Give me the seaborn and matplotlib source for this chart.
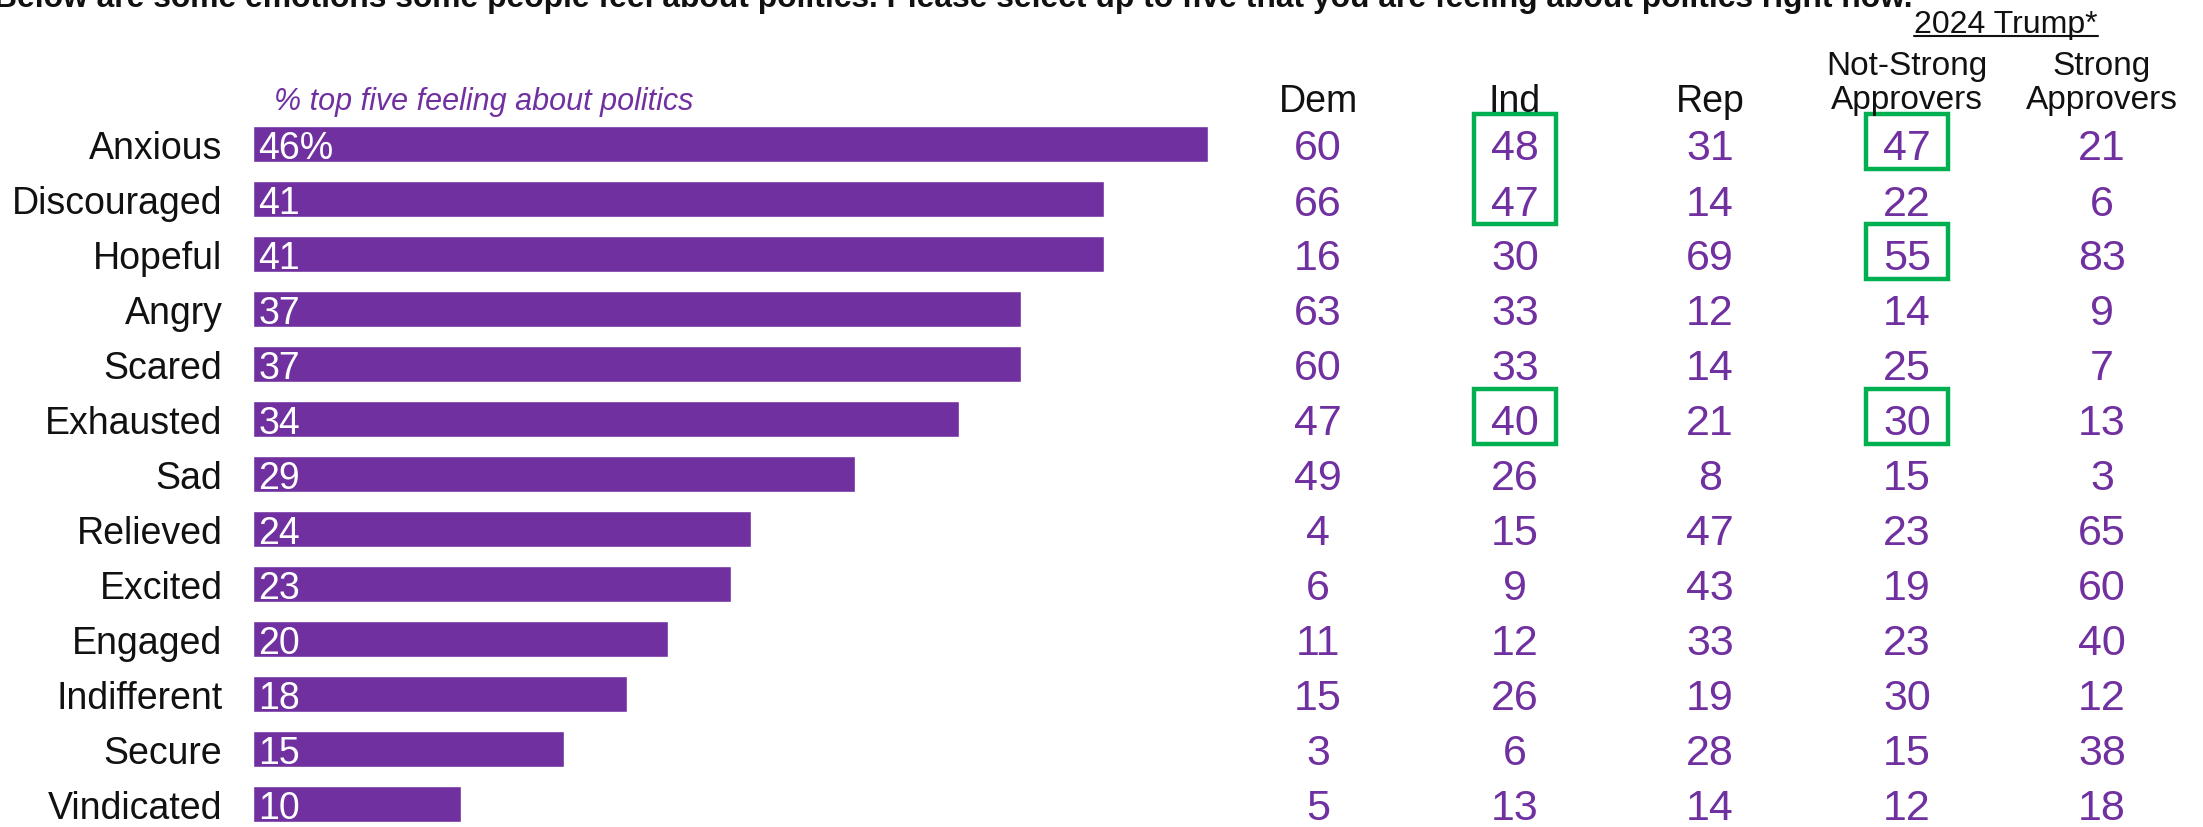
import matplotlib
matplotlib.use('Agg')
import matplotlib.pyplot as plt
from matplotlib.patches import Rectangle
from matplotlib.lines import Line2D
import pandas as pd
import seaborn as sns

# ---- data ----
emotions = ['Anxious', 'Discouraged', 'Hopeful', 'Angry', 'Scared', 'Exhausted', 'Sad',
            'Relieved', 'Excited', 'Engaged', 'Indifferent', 'Secure', 'Vindicated']
total = [46, 41, 41, 37, 37, 34, 29, 24, 23, 20, 18, 15, 10]
dem = [60, 66, 16, 63, 60, 47, 49, 4, 6, 11, 15, 3, 5]
ind = [48, 47, 30, 33, 33, 40, 26, 15, 9, 12, 26, 6, 13]
rep = [31, 14, 69, 12, 14, 21, 8, 47, 43, 33, 19, 28, 14]
not_strong = [47, 22, 55, 14, 25, 30, 15, 23, 19, 23, 30, 15, 12]
strong = [21, 6, 83, 9, 7, 13, 3, 65, 60, 40, 12, 38, 18]
# (column, first row, last row) of the green highlight boxes
highlights = [('ind', 0, 1), ('not_strong', 0, 0), ('not_strong', 2, 2),
              ('ind', 5, 5), ('not_strong', 5, 5)]

title = ('Below are some emotions some people feel about politics. '
         'Please select up to five that you are feeling about politics right now.')

PURPLE = '#7030A0'
GREEN = '#00B050'
INK = '#111111'
W, H = 2203, 828

sns.set_style('white')
plt.rcParams['font.family'] = ['Liberation Sans', 'DejaVu Sans']

df = pd.DataFrame({'emotion': emotions, 'total': total})

fig = plt.figure(figsize=(W / 100, H / 100), dpi=100)

# bar axes: rows 55 px apart, first row centre at y=145 px
top_px, row_px = 145 - 27.5, 55
ax_h = row_px * len(emotions)
ax = fig.add_axes([253 / W, 1 - (top_px + ax_h) / H, 955 / W, ax_h / H])
sns.barplot(data=df, x='total', y='emotion', color=PURPLE, saturation=1,
            width=0.67, ax=ax)
ax.set_xlim(0, 46)
ax.set_ylim(len(emotions) - 0.5, -0.5)
ax.set_xlabel('')
ax.set_ylabel('')
ax.set_xticks([])
sns.despine(ax=ax, left=True, bottom=True)
ax.tick_params(axis='y', length=0, pad=22, labelsize=27, labelcolor=INK)

for i, v in enumerate(total):
    lab = f'{v}%' if i == 0 else f'{v}'
    ax.annotate(lab, xy=(0, i), xytext=(4, 0), textcoords='offset points',
                va='center_baseline', ha='left', color='white', fontsize=27)

# table axes covering full width, x in pixels, y in rows
tax = fig.add_axes([0, 1 - (top_px + ax_h) / H, 1, ax_h / H])
tax.set_xlim(0, W)
tax.set_ylim(len(emotions) - 0.5, -0.5)
tax.axis('off')

cols = {'dem': (1318, dem), 'ind': (1515, ind), 'rep': (1710, rep),
        'not_strong': (1907, not_strong), 'strong': (2102, strong)}
for key, (cx, vals) in cols.items():
    for i, v in enumerate(vals):
        tax.text(cx, i, str(v), ha='center', va='center_baseline',
                 color=PURPLE, fontsize=31)

for key, r0, r1 in highlights:
    cx = cols[key][0]
    tax.add_patch(Rectangle((cx - 41, r0 - 0.55), 82, r1 - r0 + 1.0,
                            fill=False, edgecolor=GREEN, lw=3.2, clip_on=False))

# headers
def ftext(x, y, s, **kw):
    return fig.text(x / W, 1 - y / H, s, **kw)

for name, cx in [('Dem', 1318), ('Ind', 1515), ('Rep', 1710)]:
    ftext(cx, 112, name, ha='center', va='baseline', fontsize=27, color=INK)
ftext(1907, 75, 'Not-Strong', ha='center', va='baseline', fontsize=24, color=INK)
ftext(1907, 109, 'Approvers', ha='center', va='baseline', fontsize=24, color=INK)
ftext(2102, 75, 'Strong', ha='center', va='baseline', fontsize=24, color=INK)
ftext(2102, 109, 'Approvers', ha='center', va='baseline', fontsize=24, color=INK)
trump = ftext(2006, 33, '2024 Trump*', ha='center', va='baseline', fontsize=23,
              color=INK)

ftext(274, 110, '% top five feeling about politics', ha='left', va='baseline',
      fontsize=22, style='italic', color=PURPLE)

ttl = ftext(-6, 7, title, ha='left', va='baseline', fontsize=27, fontweight='bold',
            color=INK)

# fit the title width and underline the 2024 Trump* group header
fig.canvas.draw()
tw = ttl.get_window_extent().width
ttl.set_fontsize(27 * 1916 / tw)
bb = trump.get_window_extent()
fig.add_artist(Line2D([bb.x0 / W, bb.x1 / W], [1 - 37 / H, 1 - 37 / H],
                      color=INK, lw=1.5, transform=fig.transFigure))

fig.savefig('out.png', dpi=100)
